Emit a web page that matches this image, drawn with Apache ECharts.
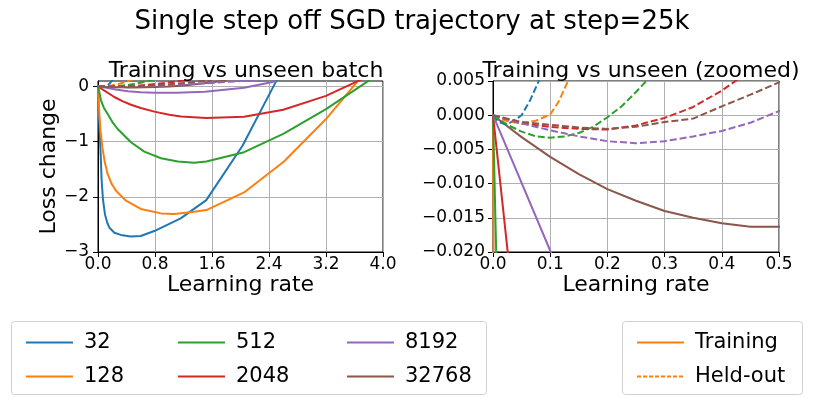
<!DOCTYPE html>
<html lang="en">
<head>
    <meta charset="utf-8">
    <script src="https://cdn.jsdelivr.net/npm/echarts@6/dist/echarts.min.js"></script>
    <style>
        html, body {
            margin: 0px;
            padding: 0px;
            width: 100%;
            height: 100%;
            background-color: #fff;
        }
        #chart {
            width: 814px;
            height: 407px;
        }
    </style>
    <title>Single step off SGD trajectory</title>
</head>
<body>
    <div id="chart"></div>
    <script type="text/javascript">
        // batch sizes and their colours
        var batches = ['32', '128', '512', '2048', '8192', '32768'];
        var colors = ['#1f77b4', '#ff7f0e', '#2ca02c', '#d62728', '#9467bd', '#8c564b'];

        // training loss change, [learning rate, loss change]
        var train32 = [[0, 0], [0.01, -0.4], [0.023, -0.8], [0.037, -1.22], [0.051, -1.7], [0.07, -2.05], [0.098, -2.32],
            [0.13, -2.47], [0.16, -2.56], [0.23, -2.65], [0.32, -2.69], [0.46, -2.72], [0.6, -2.71], [0.79, -2.62],
            [1.16, -2.39], [1.52, -2.06], [2.03, -1.07], [2.49, 0.07], [2.6, 0.35]];
        var train128 = [[0, 0], [0.006, -0.18], [0.019, -0.5], [0.035, -0.8], [0.061, -1.1], [0.095, -1.37], [0.136, -1.59],
            [0.19, -1.76], [0.253, -1.89], [0.393, -2.07], [0.6, -2.22], [0.884, -2.3], [1.07, -2.31], [1.35, -2.27],
            [1.52, -2.24], [2.05, -1.92], [2.61, -1.36], [3.2, -0.59], [3.64, 0.09], [3.7, 0.2]];
        var train512 = [[0, 0], [0.007, -0.025], [0.02, -0.11], [0.042, -0.25], [0.08, -0.38], [0.136, -0.5], [0.2, -0.64],
            [0.276, -0.77], [0.463, -1.01], [0.65, -1.18], [0.884, -1.3], [1.12, -1.36], [1.35, -1.38], [1.52, -1.36],
            [2.05, -1.19], [2.6, -0.86], [3.2, -0.41], [3.78, 0.09], [3.85, 0.15]];
        var train2048 = [[0, 0], [0.027, -0.021], [0.09, -0.075], [0.229, -0.19], [0.35, -0.27], [0.463, -0.33], [0.6, -0.39],
            [0.79, -0.455], [1.0, -0.51], [1.165, -0.545], [1.52, -0.57], [2.05, -0.55], [2.6, -0.42], [3.2, -0.17],
            [3.63, 0.09], [3.7, 0.13]];
        var train8192 = [[0, 0], [0.101, -0.02], [0.25, -0.055], [0.42, -0.085], [0.6, -0.105], [0.79, -0.115], [1.1, -0.115],
            [1.5, -0.094], [2.05, -0.024], [2.4, 0.07], [2.5, 0.1]];
        var train32768 = [[0, 0], [0.05, -0.0032], [0.1, -0.0061], [0.15, -0.0086], [0.2, -0.0108], [0.25, -0.0125],
            [0.3, -0.014], [0.35, -0.015], [0.4, -0.0158], [0.45, -0.0163], [0.5, -0.0163], [0.8, -0.01], [1.0, 0.0],
            [1.2, 0.02], [1.4, 0.045], [1.6, 0.075], [1.8, 0.11]];

        // held-out loss change
        var held32 = [[0, 0], [0.01, -0.001], [0.02, -0.0013], [0.03, -0.0011], [0.04, -0.0006], [0.05, 0], [0.065, 0.0022],
            [0.08, 0.005], [0.1, 0.011], [0.13, 0.025], [0.16, 0.05], [0.2, 0.11], [0.3, 0.35]];
        var held128 = [[0, 0], [0.025, -0.0009], [0.05, -0.0012], [0.075, -0.0008], [0.1, 0.0001], [0.115, 0.002],
            [0.131, 0.005], [0.16, 0.012], [0.2, 0.022], [0.3, 0.05], [0.4, 0.09], [0.5, 0.14]];
        var held512 = [[0, 0], [0.025, -0.0014], [0.05, -0.0024], [0.075, -0.0031], [0.1, -0.0033], [0.125, -0.0031],
            [0.15, -0.0026], [0.175, -0.0017], [0.2, -0.0003], [0.225, 0.0013], [0.25, 0.0034], [0.268, 0.005],
            [0.3, 0.009], [0.4, 0.025], [0.5, 0.045], [0.6, 0.07], [0.7, 0.1], [0.8, 0.14]];
        var held2048 = [[0, 0], [0.05, -0.0012], [0.1, -0.0017], [0.15, -0.002], [0.2, -0.0021], [0.25, -0.0015],
            [0.3, -0.0004], [0.35, 0.0012], [0.4, 0.0036], [0.45, 0.0065], [0.5, 0.01], [0.7, 0.03], [0.9, 0.06],
            [1.1, 0.09], [1.3, 0.13]];
        var held8192 = [[0, 0], [0.05, -0.0012], [0.1, -0.0022], [0.15, -0.0031], [0.2, -0.0038], [0.25, -0.0041],
            [0.3, -0.0038], [0.35, -0.0031], [0.4, -0.0023], [0.45, -0.0011], [0.5, 0.0006], [0.8, 0.012],
            [1.2, 0.035], [1.6, 0.065], [2.0, 0.1], [2.4, 0.14]];
        var held32768 = [[0, 0], [0.05, -0.001], [0.1, -0.0014], [0.15, -0.0018], [0.2, -0.002], [0.25, -0.0017],
            [0.3, -0.001], [0.35, -0.0005], [0.4, 0.0013], [0.45, 0.003], [0.5, 0.0048], [0.7, 0.015], [1.0, 0.04],
            [1.3, 0.075], [1.6, 0.12]];

        var trainData = [train32, train128, train512, train2048, train8192, train32768];
        var heldData = [held32, held128, held512, held2048, held8192, held32768];

        // axis ticks
        var leftYTicks = [-3, -2, -1, 0];
        var rightYTicks = [-0.02, -0.015, -0.01, -0.005, 0, 0.005];

        var FONT = 'DejaVu Sans';
        var DASH = [7, 3];

        function minus(s) {
            return s.replace('-', '\u2212');
        }

        var myChart = echarts.init(document.getElementById('chart'), null, {renderer: 'canvas'});

        var series = [];
        for (var g = 0; g < 2; g++) {
            for (var i = 0; i < batches.length; i++) {
                series.push({
                    name: batches[i],
                    type: 'line',
                    xAxisIndex: g,
                    yAxisIndex: g,
                    data: trainData[i],
                    symbol: 'none',
                    clip: true,
                    color: colors[i],
                    lineStyle: {width: 2, color: colors[i]}
                });
            }
            for (var i = 0; i < batches.length; i++) {
                series.push({
                    name: batches[i] + ' held',
                    type: 'line',
                    xAxisIndex: g,
                    yAxisIndex: g,
                    data: heldData[i],
                    symbol: 'none',
                    clip: true,
                    color: colors[i],
                    lineStyle: {width: 2, color: colors[i], type: DASH}
                });
            }
        }
        // entries for the style legend only
        series.push({name: 'Training', type: 'line', data: [], symbol: 'none', color: '#ff7f0e',
            lineStyle: {width: 2, color: '#ff7f0e'}});
        series.push({name: 'Held-out', type: 'line', data: [], symbol: 'none', color: '#ff7f0e',
            lineStyle: {width: 2, color: '#ff7f0e', type: [4, 2]}});

        function xAxisOf(idx, max, interval, withName) {
            return {
                type: 'value',
                gridIndex: idx,
                min: 0,
                max: max,
                interval: interval,
                name: withName ? 'Learning rate' : '',
                nameLocation: 'middle',
                nameGap: 22,
                nameTextStyle: {fontFamily: FONT, fontSize: 22, color: '#000'},
                axisLine: {show: true, onZero: false, lineStyle: {color: '#000', width: 1}},
                axisTick: {show: true, length: 5, lineStyle: {color: '#000', width: 1}},
                axisLabel: {
                    fontFamily: FONT, fontSize: 17, color: '#000', margin: 4,
                    formatter: function (v) { return v.toFixed(1); }
                },
                splitLine: {show: true, lineStyle: {color: '#b0b0b0', width: 1}}
            };
        }

        var option = {
            animation: false,
            backgroundColor: '#fff',
            title: [
                {text: 'Single step off SGD trajectory at step=25k', left: 407, top: 4, textAlign: 'center',
                    textStyle: {fontFamily: FONT, fontSize: 26, fontWeight: 'normal', color: '#000'}},
                {text: 'Training vs unseen batch', left: 241, top: 55, textAlign: 'center',
                    textStyle: {fontFamily: FONT, fontSize: 22, fontWeight: 'normal', color: '#000'}},
                {text: 'Training vs unseen (zoomed)', left: 636, top: 55, textAlign: 'center',
                    textStyle: {fontFamily: FONT, fontSize: 22, fontWeight: 'normal', color: '#000'}}
            ],
            grid: [
                {left: 98, top: 81, width: 285, height: 171, containLabel: false, outerBoundsMode: 'none',
                    show: true, borderColor: '#000', borderWidth: 1, backgroundColor: 'transparent'},
                {left: 493, top: 81, width: 286, height: 171, containLabel: false, outerBoundsMode: 'none',
                    show: true, borderColor: '#000', borderWidth: 1, backgroundColor: 'transparent'}
            ],
            xAxis: [
                xAxisOf(0, 4, 0.8, true),
                xAxisOf(1, 0.5, 0.1, true)
            ],
            yAxis: [
                {
                    type: 'value', gridIndex: 0, min: -3, max: 0.1, interval: 1,
                    name: 'Loss change', nameLocation: 'middle', nameGap: 36,
                    nameTextStyle: {fontFamily: FONT, fontSize: 22, color: '#000'},
                    axisLine: {show: true, onZero: false, lineStyle: {color: '#000', width: 1}},
                    axisTick: {show: true, length: 5, customValues: leftYTicks, lineStyle: {color: '#000', width: 1}},
                    axisLabel: {
                        fontFamily: FONT, fontSize: 17, color: '#000', margin: 9, customValues: leftYTicks,
                        formatter: function (v) { return minus(String(Math.round(v))); }
                    },
                    splitLine: {show: true, lineStyle: {color: '#b0b0b0', width: 1}}
                },
                {
                    type: 'value', gridIndex: 1, min: -0.02, max: 0.005, interval: 0.005,
                    axisLine: {show: true, onZero: false, lineStyle: {color: '#000', width: 1}},
                    axisTick: {show: true, length: 5, customValues: rightYTicks, lineStyle: {color: '#000', width: 1}},
                    axisLabel: {
                        fontFamily: FONT, fontSize: 17, color: '#000', margin: 8, customValues: rightYTicks,
                        formatter: function (v) { return minus(v.toFixed(3)); }
                    },
                    splitLine: {show: true, lineStyle: {color: '#b0b0b0', width: 1}}
                }
            ],
            legend: [
                {data: ['32', '128'], left: 20, top: 327},
                {data: ['512', '2048'], left: 172, top: 327},
                {data: ['8192', '32768'], left: 341, top: 327},
                {data: ['Training', 'Held-out'], left: 631, top: 327}
            ].map(function (l) {
                l.orient = 'vertical';
                l.itemWidth = 47;
                l.itemHeight = 14;
                l.itemGap = 13;
                l.selectedMode = false;
                l.itemStyle = {opacity: 0};
                l.textStyle = {fontFamily: FONT, fontSize: 21, color: '#000', padding: [0, 0, 0, 6]};
                return l;
            }),
            graphic: [
                {type: 'rect', shape: {x: 11.5, y: 321.5, width: 475, height: 73, r: 3},
                    style: {fill: 'rgba(255,255,255,0.8)', stroke: '#d0d0d0', lineWidth: 1}, z: -1},
                {type: 'rect', shape: {x: 622.5, y: 321.5, width: 180, height: 73, r: 3},
                    style: {fill: 'rgba(255,255,255,0.8)', stroke: '#d0d0d0', lineWidth: 1}, z: -1}
            ],
            series: series
        };

        myChart.setOption(option, true);
    </script>
</body>
</html>
